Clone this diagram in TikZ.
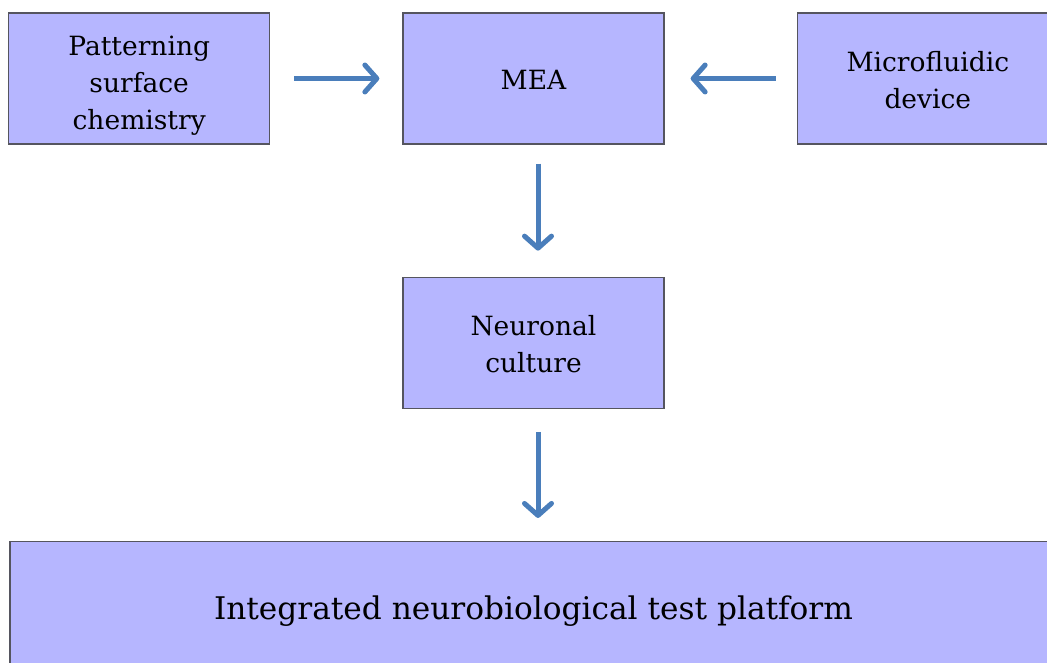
\documentclass[tikz,border=0pt]{standalone}
\usepackage{fontspec}
\setmainfont{DejaVu Serif}
\usetikzlibrary{arrows.meta,positioning}
\definecolor{boxfill}{HTML}{B6B6FF}
\definecolor{boxline}{HTML}{55555F}
\definecolor{flow}{HTML}{4A7EBB}
% pushes the lines of a box a little downwards
\newcommand{\lift}[1]{\rule{0pt}{#1}}

\begin{document}
\begin{tikzpicture}[
  x=1pt,y=-1pt,
  box/.style={draw=boxline,fill=boxfill,line width=1.3pt,minimum width=261pt,minimum height=131pt,inner sep=0pt,align=center,font=\fontsize{26.5}{37}\selectfont},
  arr/.style={-{Straight Barb[length=12pt,width=27pt,round]},line width=5pt,draw=flow}
]
\useasboundingbox (0,0) rectangle (1047,663);

\node[box] (mea) at (533.5,78.5) {\lift{23pt}MEA};
\node[box,left=132pt of mea] (pattern) {\lift{33pt}Patterning\\surface\\chemistry};
\node[box,right=132pt of mea] (fluidic) {\lift{23pt}Microfluidic\\device};
\node[box,below=132pt of mea] (culture) {\lift{23pt}Neuronal\\culture};
\node[box,below=132pt of culture,minimum width=1047pt,minimum height=139pt,font=\fontsize{31.2}{40}\selectfont] (platform) {Integrated neurobiological test platform};

\draw[arr,shorten <=24pt,shorten >=23pt] (pattern) -- (mea);
\draw[arr,shorten <=21pt,shorten >=26pt] (fluidic) -- (mea);
\draw[arr,shorten <=19pt,shorten >=26pt] ([xshift=4.5pt]mea.south) -- ([xshift=4.5pt]culture.north);
\draw[arr,shorten <=23pt,shorten >=23pt] ([xshift=4.5pt]culture.south) -- ([xshift=4.5pt]platform.north);
\end{tikzpicture}
\end{document}
